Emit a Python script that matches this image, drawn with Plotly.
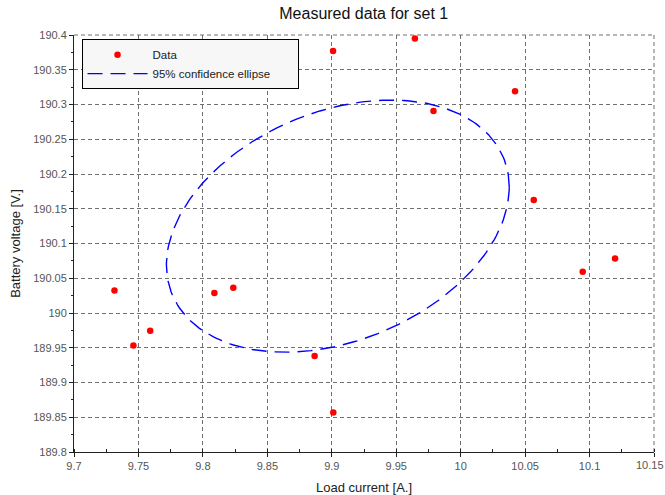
import numpy as np
import plotly.graph_objects as go

# ---- data ----
load_current = [9.901, 9.9645, 10.0422, 9.9789, 10.0567, 10.1198, 10.0947,
                9.8867, 9.9012, 9.7314, 9.7461, 9.7591, 9.8089, 9.8236]
battery_voltage = [190.377, 190.395, 190.319, 190.2906, 190.1625, 190.0785, 190.0593,
                   189.938, 189.857, 190.0324, 189.9533, 189.9743, 190.0286, 190.0362]

# 95% confidence ellipse parameters
ell_center_x = 9.9047
ell_center_y = 190.125
ell_half_x = 0.1330
ell_half_y = 0.1814
ell_phase_deg = 72.0

x_tickvals = [9.7, 9.75, 9.8, 9.85, 9.9, 9.95, 10.0, 10.05, 10.1, 10.15]
x_ticktext = ["9.7", "9.75", "9.8", "9.85", "9.9", "9.95", "10", "10.05", "10.1", "10.15"]
y_tickvals = [189.8, 189.85, 189.9, 189.95, 190.0, 190.05, 190.1, 190.15, 190.2,
              190.25, 190.3, 190.35, 190.4]
y_ticktext = ["189.8", "189.85", "189.9", "189.95", "190", "190.05", "190.1", "190.15",
              "190.2", "190.25", "190.3", "190.35", "190.4"]

t = np.linspace(0, 2 * np.pi, 241)
phi = np.deg2rad(ell_phase_deg)
ell_x = ell_center_x + ell_half_x * np.cos(t)
ell_y = ell_center_y + ell_half_y * np.cos(t - phi)

FONT = "Liberation Sans, Arial, sans-serif"
PAD = "\u00a0" * 7
GRIDCOLOR = "#707070"
TICKFONT = dict(family=FONT, size=11, color="#555555")

fig = go.Figure()
fig.add_trace(go.Scatter(
    x=load_current, y=battery_voltage, mode="markers", name="Data",
    marker=dict(color="#ff0000", size=6.5, line=dict(width=0)),
))
fig.add_trace(go.Scatter(
    x=ell_x, y=ell_y, mode="lines", name="95% confidence ellipse" + PAD,
    line=dict(color="#0000ff", width=1.4, dash="15px,8px"),
))

axis_common = dict(
    showgrid=True, gridcolor=GRIDCOLOR, gridwidth=1, griddash="4px,3px",
    showline=True, linecolor="#222222", linewidth=1,
    ticks="outside", ticklen=4, tickcolor="#222222", tickwidth=1,
    tickfont=TICKFONT,
    zeroline=False, automargin=False,
)

# dashed frame on the top and right edges, styled like the grid
for x0, y0, x1, y1 in [(0, 1, 1, 1), (1, 0, 1, 1)]:
    fig.add_shape(type="line", xref="paper", yref="paper", x0=x0, y0=y0, x1=x1, y1=y1,
                  line=dict(color=GRIDCOLOR, width=1, dash="4px,3px"), layer="below")

# last x tick label sits at the page edge: draw it nudged inward
x_ticktext_axis = x_ticktext[:-1] + [""]
fig.add_annotation(x=x_tickvals[-1], xref="x", y=0, yref="paper", text=x_ticktext[-1],
                   showarrow=False, xanchor="center", yanchor="top", xshift=-4, yshift=-5,
                   font=TICKFONT)

fig.update_layout(
    width=665, height=495,
    margin=dict(l=73.5, r=11, t=35, b=43.3, autoexpand=False),
    paper_bgcolor="white", plot_bgcolor="white",
    font=dict(family=FONT, color="#222222"),
    title=dict(text="Measured data for set 1", x=0.547, xanchor="center",
               y=0.972, yanchor="middle",
               font=dict(family=FONT, size=16, color="#111111")),
    xaxis=dict(
        range=[9.7, 10.15], tickvals=x_tickvals, ticktext=x_ticktext_axis,
        title=dict(text="Load current [A.]", font=dict(family=FONT, size=13, color="#222222"),
                   standoff=15),
        minor=dict(dtick=0.025, tick0=9.7, ticks="inside", ticklen=3, tickcolor="#222222",
                   showgrid=False),
        **axis_common,
    ),
    yaxis=dict(
        range=[189.8, 190.4], tickvals=y_tickvals, ticktext=y_ticktext,
        title=dict(text="Battery voltage [V.]", font=dict(family=FONT, size=13, color="#222222"),
                   standoff=9),
        minor=dict(dtick=0.025, tick0=189.8, ticks="outside", ticklen=2, tickcolor="#222222",
                   showgrid=False),
        **axis_common,
    ),
    legend=dict(
        x=0.013, y=0.99, xanchor="left", yanchor="top",
        bgcolor="#f7f7f7", bordercolor="#000000", borderwidth=1,
        font=dict(family=FONT, size=11.5, color="#222222"),
        itemwidth=60, tracegroupgap=0,
    ),
    showlegend=True,
)

fig.write_html("out.html")
